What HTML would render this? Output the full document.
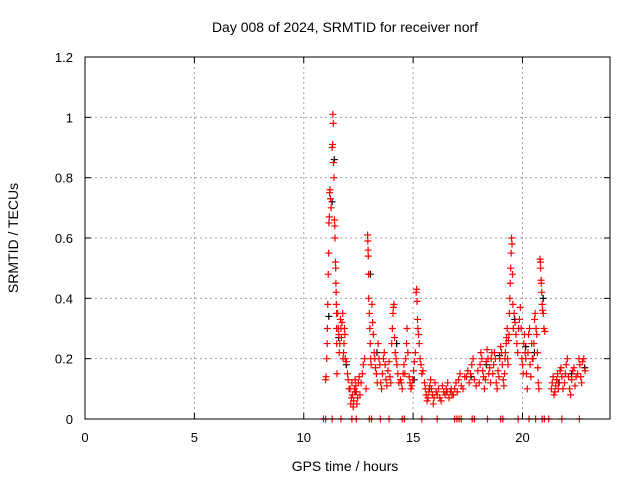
<!DOCTYPE html>
<html><head><meta charset="utf-8">
<style>
body{margin:0;background:#fff;}
svg{display:block;font-family:"Liberation Sans",sans-serif;}
</style></head>
<body>
<svg id="chart" width="640" height="480">
<text x="345" y="32" font-size="14" text-anchor="middle">Day 008 of 2024, SRMTID for receiver norf</text>
<text x="345" y="471" font-size="14" text-anchor="middle">GPS time / hours</text>
<text x="18" y="238" font-size="14" text-anchor="middle" transform="rotate(-90 18 238)">SRMTID / TECUs</text>
<g id="grid"></g><g id="ticks"></g><g id="marks"></g>
<rect x="85" y="57" width="525" height="362" fill="none" stroke="#000" stroke-width="1"/>
</svg>
<script>
const xTicks=[0,5,10,15,20];
const yTicks=[0,0.2,0.4,0.6,0.8,1,1.2];
const yTickLabels=["0","0.2","0.4","0.6","0.8","1","1.2"];
const redTimes=[
11.00,11.02,11.05,11.07,11.08,11.10,11.12,11.14,11.15,11.17,11.18,11.20,11.22,11.25,
11.30,11.32,11.33,11.35,11.36,11.38,11.40,11.42,11.43,11.45,11.46,11.47,11.48,11.49,11.50,11.50,11.51,11.52,
11.55,11.58,11.60,11.62,11.65,11.68,11.70,11.72,11.75,11.78,11.80,11.82,11.84,11.86,11.88,
11.90,11.95,12.00,12.03,12.07,
12.12,12.15,12.18,12.20,12.23,12.26,12.28,12.32,12.35,12.38,12.40,12.43,12.46,12.50,12.53,12.57,
12.62,12.68,12.72,12.78,12.85,
12.92,12.93,12.94,12.95,12.96,12.97,13.00,13.02,13.04,13.06,13.08,
13.12,13.15,13.18,13.22,13.25,13.28,13.32,13.36,13.40,13.44,13.48,
13.52,13.56,13.60,13.64,13.68,13.72,13.76,13.80,13.85,13.90,13.94,13.98,
14.02,14.05,14.08,14.10,14.12,14.15,14.18,14.22,14.26,14.30,14.35,
14.42,14.46,14.50,14.54,14.58,14.62,14.66,14.70,14.72,14.76,
14.82,14.86,14.90,14.94,14.98,15.02,15.06,15.10,
15.14,15.16,15.18,15.20,15.22,15.25,15.28,15.32,15.36,15.40,15.45,
15.52,15.56,15.60,15.64,15.68,15.72,15.76,15.80,15.84,15.88,15.92,15.96,16.00,
16.05,16.10,16.16,16.22,16.28,16.34,16.40,16.46,16.52,16.58,16.64,16.70,16.74,16.78,
16.84,16.90,16.96,17.02,17.08,17.14,17.20,17.28,17.36,
17.44,17.50,17.56,17.62,17.68,17.74,17.80,17.88,17.96,
18.02,18.06,18.10,18.14,18.18,18.22,18.26,18.30,18.34,18.38,18.42,18.46,18.50,18.54,18.57,18.60,
18.64,18.68,18.72,18.76,18.80,18.84,18.88,18.92,18.96,19.00,19.04,19.08,19.12,19.15,19.18,19.20,
19.22,19.25,19.27,19.30,19.32,19.34,19.36,19.38,19.40,19.42,19.44,19.46,19.48,19.50,19.52,19.54,19.56,
19.58,19.62,19.66,19.70,19.74,19.78,19.82,19.86,19.90,19.94,19.97,20.00,20.03,20.06,20.09,20.12,
20.15,20.18,20.22,20.25,20.28,20.32,20.35,20.38,20.42,20.45,
20.48,20.52,20.55,20.58,20.62,20.65,20.68,20.70,20.72,20.75,
20.80,20.82,20.83,20.85,20.86,20.88,20.90,20.92,20.95,20.98,21.02,
21.32,21.36,21.40,21.44,21.48,21.52,21.56,21.60,21.64,21.68,21.72,21.76,21.80,21.85,
21.92,21.96,22.00,22.05,22.10,22.15,22.20,22.25,22.30,22.35,22.40,22.45,
22.52,22.58,22.62,22.66,22.70,22.74,22.80,22.86
];
const redValues=[
0.13,0.14,0.20,0.25,0.30,0.38,0.48,0.55,0.65,0.67,0.75,0.76,0.73,0.70,
0.90,0.91,1.01,0.98,0.85,0.80,0.66,0.64,0.60,0.52,0.50,0.45,0.42,0.38,0.35,0.30,0.25,0.15,
0.35,0.30,0.28,0.22,0.25,0.33,0.30,0.27,0.32,0.35,0.20,0.22,0.25,0.30,0.28,
0.20,0.19,0.15,0.13,0.10,
0.10,0.05,0.07,0.12,0.08,0.04,0.06,0.10,0.13,0.11,0.09,0.05,0.07,0.12,0.14,0.08,
0.12,0.15,0.18,0.20,0.10,
0.61,0.59,0.56,0.54,0.48,0.40,0.35,0.30,0.25,0.20,0.18,
0.38,0.32,0.28,0.22,0.20,0.17,0.15,0.12,0.25,0.20,0.18,
0.12,0.10,0.15,0.20,0.22,0.18,0.13,0.11,0.16,0.19,0.14,0.12,
0.25,0.30,0.35,0.37,0.38,0.27,0.22,0.20,0.18,0.15,0.12,
0.13,0.12,0.10,0.15,0.18,0.15,0.20,0.25,0.30,0.22,
0.14,0.12,0.10,0.11,0.13,0.16,0.19,0.22,
0.42,0.43,0.39,0.33,0.30,0.28,0.25,0.20,0.18,0.15,0.16,
0.12,0.10,0.08,0.06,0.07,0.09,0.11,0.13,0.10,0.08,0.05,0.07,0.12,
0.09,0.08,0.10,0.07,0.06,0.11,0.09,0.08,0.10,0.12,0.07,0.09,0.10,0.08,
0.08,0.10,0.12,0.09,0.13,0.15,0.11,0.10,0.14,
0.14,0.16,0.12,0.15,0.18,0.20,0.13,0.11,0.16,
0.12,0.18,0.22,0.20,0.16,0.14,0.10,0.13,0.19,0.23,0.20,0.15,0.17,0.12,0.20,0.22,
0.15,0.18,0.22,0.20,0.12,0.10,0.16,0.14,0.20,0.24,0.22,0.18,0.13,0.11,0.15,0.20,
0.22,0.25,0.27,0.30,0.20,0.18,0.26,0.28,0.35,0.40,0.45,0.50,0.55,0.60,0.58,0.48,0.38,
0.30,0.35,0.32,0.28,0.25,0.22,0.30,0.33,0.37,0.30,0.20,0.18,0.15,0.25,0.28,0.22,
0.20,0.15,0.10,0.22,0.28,0.30,0.18,0.14,0.25,0.20,
0.20,0.25,0.33,0.35,0.30,0.28,0.22,0.17,0.12,0.10,
0.53,0.52,0.50,0.46,0.45,0.42,0.38,0.36,0.35,0.30,0.29,
0.10,0.12,0.14,0.08,0.09,0.11,0.13,0.15,0.10,0.12,0.16,0.17,0.14,0.10,
0.12,0.15,0.18,0.20,0.14,0.10,0.08,0.13,0.16,0.17,0.11,0.14,
0.15,0.20,0.18,0.14,0.12,0.19,0.20,0.16
];
const blackTimes=[11.1,11.25,11.35,11.55,11.9,12.3,13.0,13.3,14.2,15.0,15.7,16.5,17.6,18.3,18.9,19.6,20.1,20.5,20.9,21.6,22.2,22.8];
const blackValues=[0.34,0.72,0.86,0.27,0.18,0.09,0.48,0.22,0.25,0.13,0.10,0.09,0.14,0.18,0.21,0.33,0.24,0.22,0.40,0.12,0.15,0.17];
const zeroTimes=[10.9,11.0,11.3,11.7,12.2,12.4,13.0,13.1,13.5,13.9,14.5,14.6,15.4,16.1,16.9,17.0,17.1,17.2,17.7,17.8,18.4,19.0,19.1,19.8,20.3,20.6,20.9,21.0,21.2,21.8,22.6];

const X0=85,X1=610,Y0=419,Y1=57;
const xs=t=>X0+(t/24)*(X1-X0);
const ys=v=>Y0-(v/1.2)*(Y0-Y1);
const NS="http://www.w3.org/2000/svg";
const grid=document.getElementById('grid'),ticks=document.getElementById('ticks'),marks=document.getElementById('marks');
function mk(tag,attrs,parent){const e=document.createElementNS(NS,tag);for(const k in attrs)e.setAttribute(k,attrs[k]);parent.appendChild(e);return e;}
xTicks.forEach(t=>{
  const x=xs(t);
  if(t>0){const g=mk('line',{x1:x,x2:x,y1:Y0,y2:Y1,stroke:'#a0a0a0','stroke-dasharray':'2,3'},grid);
  
  }
  mk('line',{x1:x,x2:x,y1:Y0,y2:Y0-6,stroke:'#000'},ticks);
  mk('line',{x1:x,x2:x,y1:Y1,y2:Y1+6,stroke:'#000'},ticks);
  const l=mk('text',{x:x,y:Y0+23,'font-size':13,'text-anchor':'middle'},ticks);l.textContent=t;
  
  
});
yTicks.forEach((v,i)=>{
  const y=ys(v);
  if(v>0&&v<1.2){const g=mk('line',{x1:X0,x2:X1,y1:y,y2:y,stroke:'#a0a0a0','stroke-dasharray':'2,3'},grid);
  
  }
  mk('line',{x1:X0,x2:X0+6,y1:y,y2:y,stroke:'#000'},ticks);
  mk('line',{x1:X1,x2:X1-6,y1:y,y2:y,stroke:'#000'},ticks);
  const l=mk('text',{x:X0-12,y:y+5,'font-size':13,'text-anchor':'end'},ticks);l.textContent=yTickLabels[i];
  
  
});
function plus(x,y,col){
  const p=mk('path',{d:`M${x-3.5},${y}H${x+3.5}M${x},${y-3.5}V${y+3.5}`,stroke:col,'stroke-width':1.2,fill:'none'},marks);
  return p;
}
blackTimes.forEach((t,i)=>{
  const p=plus(xs(t)+1,ys(blackValues[i]),'#000');
  
  
});
redTimes.forEach((t,i)=>{
  const p=plus(xs(t),ys(redValues[i]),'#ff0000');
  
  
});
zeroTimes.forEach(t=>{
  const p=plus(xs(t),ys(0),'#ff0000');
  
  
});
</script>
</body></html>
